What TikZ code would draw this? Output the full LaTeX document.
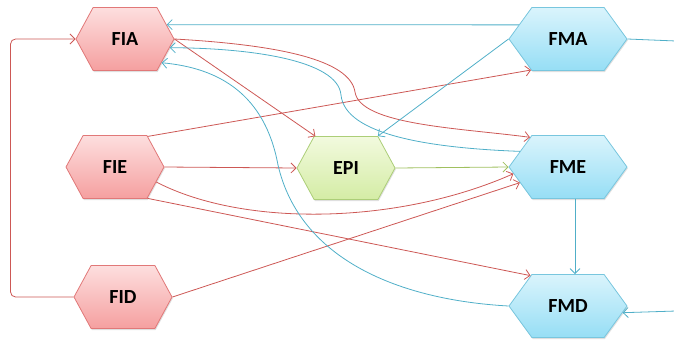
\documentclass[tikz,border=0pt]{standalone}
\usepackage{fontspec}
\setmainfont{Carlito}
\usetikzlibrary{shapes.symbols,arrows.meta,shadows,calc}
\definecolor{redln}{RGB}{205,88,85}
\definecolor{blueln}{RGB}{80,175,200}
\definecolor{greenln}{RGB}{160,192,95}
\definecolor{fitop}{RGB}{253,222,222}
\definecolor{fibot}{RGB}{245,160,160}
\definecolor{fiedge}{RGB}{225,120,120}
\definecolor{fmtop}{RGB}{218,244,252}
\definecolor{fmbot}{RGB}{150,222,245}
\definecolor{fmedge}{RGB}{120,198,222}
\definecolor{eptop}{RGB}{242,250,222}
\definecolor{epbot}{RGB}{212,236,165}
\definecolor{epedge}{RGB}{172,206,120}
\begin{document}
\begin{tikzpicture}[x=1pt,y=-1pt,
  hexbase/.style={signal, signal to=east and west, minimum height=63pt, inner sep=0pt,
    font=\bfseries\fontsize{20}{24}\selectfont, text=black, line width=0.8pt,
    drop shadow={shadow xshift=0.8pt, shadow yshift=-1.5pt, opacity=0.25}},
  fi/.style={hexbase, signal pointer angle=123, minimum width=98pt, draw=fiedge, top color=fitop, bottom color=fibot},
  ep/.style={hexbase, signal pointer angle=123, minimum width=98pt, draw=epedge, top color=eptop, bottom color=epbot},
  fm/.style={hexbase, signal pointer angle=108, minimum width=118pt, draw=fmedge, top color=fmtop, bottom color=fmbot},
  conn/.style={line width=0.8pt, -{Straight Barb[length=5pt,width=10pt]}},
  rl/.style={conn, draw=redln},
  bl/.style={conn, draw=blueln},
  gl/.style={conn, draw=greenln}
]
\useasboundingbox (0,0) rectangle (674,341);
\node[fi] (FIA) at (125,39) {FIA};
\node[fi] (FIE) at (115,167) {FIE};
\node[fi] (FID) at (123,297) {FID};
\node[ep] (EPI) at (346,168) {EPI};
\node[fm] (FMA) at (568,39) {FMA};
\node[fm] (FME) at (568,167) {FME};
\node[fm] (FMD) at (568,306) {FMD};
\coordinate (outA) at (676,41);
\coordinate (outD) at (676,311);

% red connectors
\draw[rl, rounded corners=5pt] (FID.west) -- ([xshift=-63pt]FID.west) |- (FIA.west);
\draw[rl] (FIA.east) -- (EPI.134);
\draw[rl] (FIA.east) .. controls (280,45) and (350,60) .. (355,92) .. controls (360,125) and (460,128) .. (FME.142);
\draw[rl] (FIE.43) -- (FMA.220);
\draw[rl] (FIE.east) -- (EPI.west);
\draw[rl] (FIE.-20) .. controls (245,228) and (400,224) .. (FME.187);
\draw[rl] (FIE.-44) -- (FMD.141);
\draw[rl] (FID.east) -- (FME.198);
% green
\draw[gl] (EPI.east) -- (FME.west);
% blue connectors
\draw[bl] (FMA.164) -- (FIA.19);
\draw[bl] (FMA.west) -- (EPI.45);
\draw[bl] (FME.162) .. controls (430,148) and (345,135) .. (341,95) .. controls (338,60) and (250,48) .. (FIA.-11);
\draw[bl] (FMD.west) .. controls (400,300) and (300,260) .. (278,165) .. controls (265,95) and (220,68) .. (FIA.-33);
\draw[bl] ([xshift=7pt]FME.south) -- ([xshift=7pt]FMD.north);
\draw[line width=0.8pt, draw=blueln] (FMA.east) -- (outA);
\draw[bl] (outD) -- (FMD.-7);
\end{tikzpicture}
\end{document}
